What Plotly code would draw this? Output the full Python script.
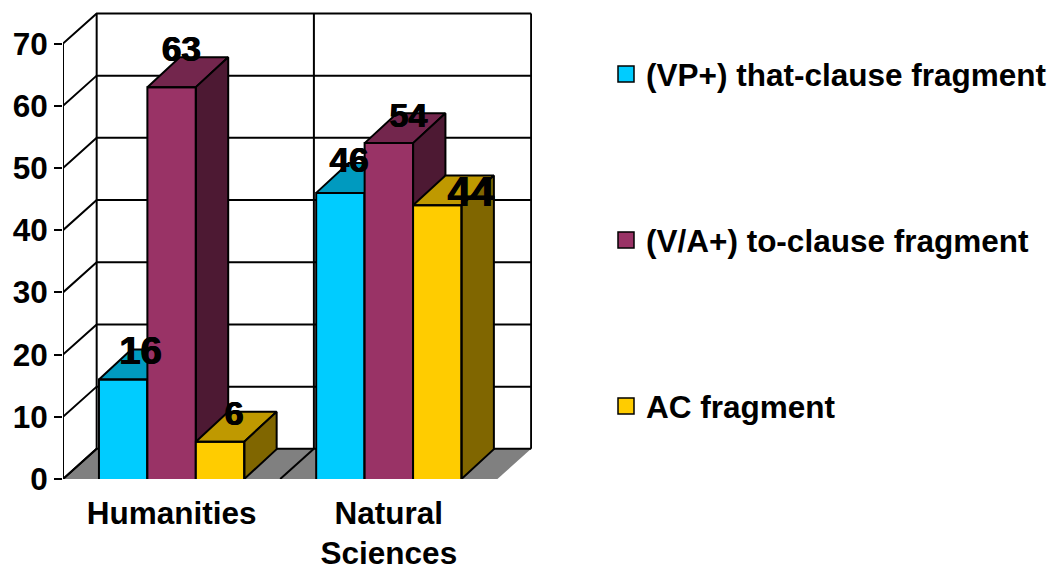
import plotly.graph_objects as go

categories = ["Humanities", "Natural<br>Sciences"]
series_names = ["(VP+) that-clause fragment", "(V/A+) to-clause fragment", "AC fragment"]
vp_that = [16, 46]
va_to = [63, 54]
ac = [6, 44]
y_ticks = [0, 10, 20, 30, 40, 50, 60, 70]

series = [vp_that, va_to, ac]
front_colors = ["#00CCFF", "#993366", "#FFCC00"]
top_colors = ["#009ABF", "#73264D", "#BF9900"]
side_colors = ["#00667F", "#4D1933", "#806600"]

# label nudges from the bar's front-top centre (x units, y units), and label sizes
label_dx = [[0.08, 0.04], [0.045, 0.09], [0.065, 0.155]]
label_dy = [[4.0, 4.8], [5.6, 3.9], [4.0, 1.5]]
label_size = [[38, 35], [35, 34], [34, 42]]

FONT = "Liberation Sans, Arial, sans-serif"
BAR_W = 0.223
BAR_DX, BAR_DY = 0.149, 4.8
WALL_DX, WALL_DY = 0.155, 4.85
X0, X1 = -0.5, 1.5
LW = 2
W, H = 1052, 571

fig = go.Figure()


def poly(xs, ys, fill=None, axis=("x", "y"), width=LW, clip=True):
    fig.add_trace(go.Scatter(
        x=xs, y=ys, mode="lines", xaxis=axis[0], yaxis=axis[1],
        fill="toself" if fill else "none", fillcolor=fill,
        line=dict(color="black", width=width), hoverinfo="skip",
        showlegend=False, cliponaxis=clip))


# floor
fig.add_trace(go.Scatter(
    x=[X0, X0 + WALL_DX, X1 + WALL_DX, X1, X0],
    y=[0, WALL_DY, WALL_DY, 0, 0], mode="lines", fill="toself",
    fillcolor="#808080", line=dict(width=0), hoverinfo="skip", showlegend=False))
# floor divider and left edge
for xb in [X0, 0.5]:
    poly([xb, xb + WALL_DX], [0, WALL_DY])
# gridlines on side and back wall
for v in y_ticks:
    poly([X0, X0 + WALL_DX, X1 + WALL_DX], [v, v + WALL_DY, v + WALL_DY])
for xb in [X0, 0.5, X1]:
    poly([xb + WALL_DX] * 2, [WALL_DY, y_ticks[-1] + WALL_DY])
# value axis line
poly([X0, X0], [0, y_ticks[-1]], clip=False)

# bars, each series in its own layer so later bars cover earlier ones
for i, vals in enumerate(series):
    ax = (f"x{i + 2}", f"y{i + 2}")
    off = (i - 1) * BAR_W
    fig.add_trace(go.Bar(
        x=[c + off for c in range(len(vals))], y=vals, width=BAR_W,
        xaxis=ax[0], yaxis=ax[1], marker=dict(color=front_colors[i], line=dict(width=0)),
        hoverinfo="skip", showlegend=False))
    for c, v in enumerate(vals):
        l, r = c + off - BAR_W / 2, c + off + BAR_W / 2
        poly([l, l + BAR_DX, r + BAR_DX, r, l], [v, v + BAR_DY, v + BAR_DY, v, v],
             fill=top_colors[i], axis=ax)
        poly([r, r + BAR_DX, r + BAR_DX, r, r], [v, v + BAR_DY, BAR_DY, 0, v],
             fill=side_colors[i], axis=ax)
        poly([l, l, r, r], [0, v, v, 0], axis=ax)

# data labels on top of everything
lx, ly, lt, ls = [], [], [], []
for i, vals in enumerate(series):
    for c, v in enumerate(vals):
        lx.append(c + (i - 1) * BAR_W + label_dx[i][c])
        ly.append(v + label_dy[i][c])
        lt.append(str(v))
        ls.append(label_size[i][c])
fig.add_trace(go.Scatter(
    x=lx, y=ly, text=lt, mode="text", xaxis="x4", yaxis="y4",
    textposition="middle center", cliponaxis=False,
    textfont=dict(family=FONT, size=ls, color="black", weight="bold",
                  shadow="0.6px 0 0 black, -0.6px 0 0 black"),
    hoverinfo="skip", showlegend=False))

# legend keys
for i, name in enumerate(series_names):
    fig.add_trace(go.Scatter(
        x=[None], y=[None], mode="markers", name=name, legendgroup=name,
        marker=dict(symbol="square", size=19, color=front_colors[i],
                    line=dict(color="black", width=1.5))))

x_range = [-0.5, 1.659]
y_range = [0, 479 / 6.22]
layout_axes = {}
for n in (2, 3, 4):
    layout_axes[f"xaxis{n}"] = dict(overlaying="x", range=x_range, visible=False, automargin=False)
    layout_axes[f"yaxis{n}"] = dict(overlaying="y", range=y_range, visible=False, automargin=False)

fig.update_layout(
    width=W, height=H, autosize=False,
    margin=dict(l=63, r=520, t=0, b=92, pad=0),
    paper_bgcolor="white", plot_bgcolor="white",
    barmode="overlay",
    font=dict(family=FONT, size=31.5, color="black", weight="bold"),
    xaxis=dict(range=x_range, showgrid=False, zeroline=False, showline=False, automargin=False,
               tickmode="array", tickvals=list(range(len(categories))),
               ticktext=categories, ticks="", ticklabelstandoff=12,
               tickfont=dict(family=FONT, size=31.5, color="black", weight="bold")),
    yaxis=dict(range=y_range, showgrid=False, zeroline=False, showline=False, automargin=False,
               tickmode="array", tickvals=y_ticks, ticks="outside", ticklen=8,
               tickwidth=2, tickcolor="black",
               tickfont=dict(family=FONT, size=31.5, color="black", weight="bold")),
    legend=dict(xref="container", yref="container",
                x=606 / W, y=1 - 47 / H,
                xanchor="left", yanchor="top", maxheight=500,
                tracegroupgap=122, bgcolor="rgba(0,0,0,0)", itemclick=False,
                font=dict(family=FONT, size=31.5, color="black", weight="bold")),
    **layout_axes,
)

fig.write_html("out.html", config={"displayModeBar": False},
               post_script="document.body.style.margin='0';")
